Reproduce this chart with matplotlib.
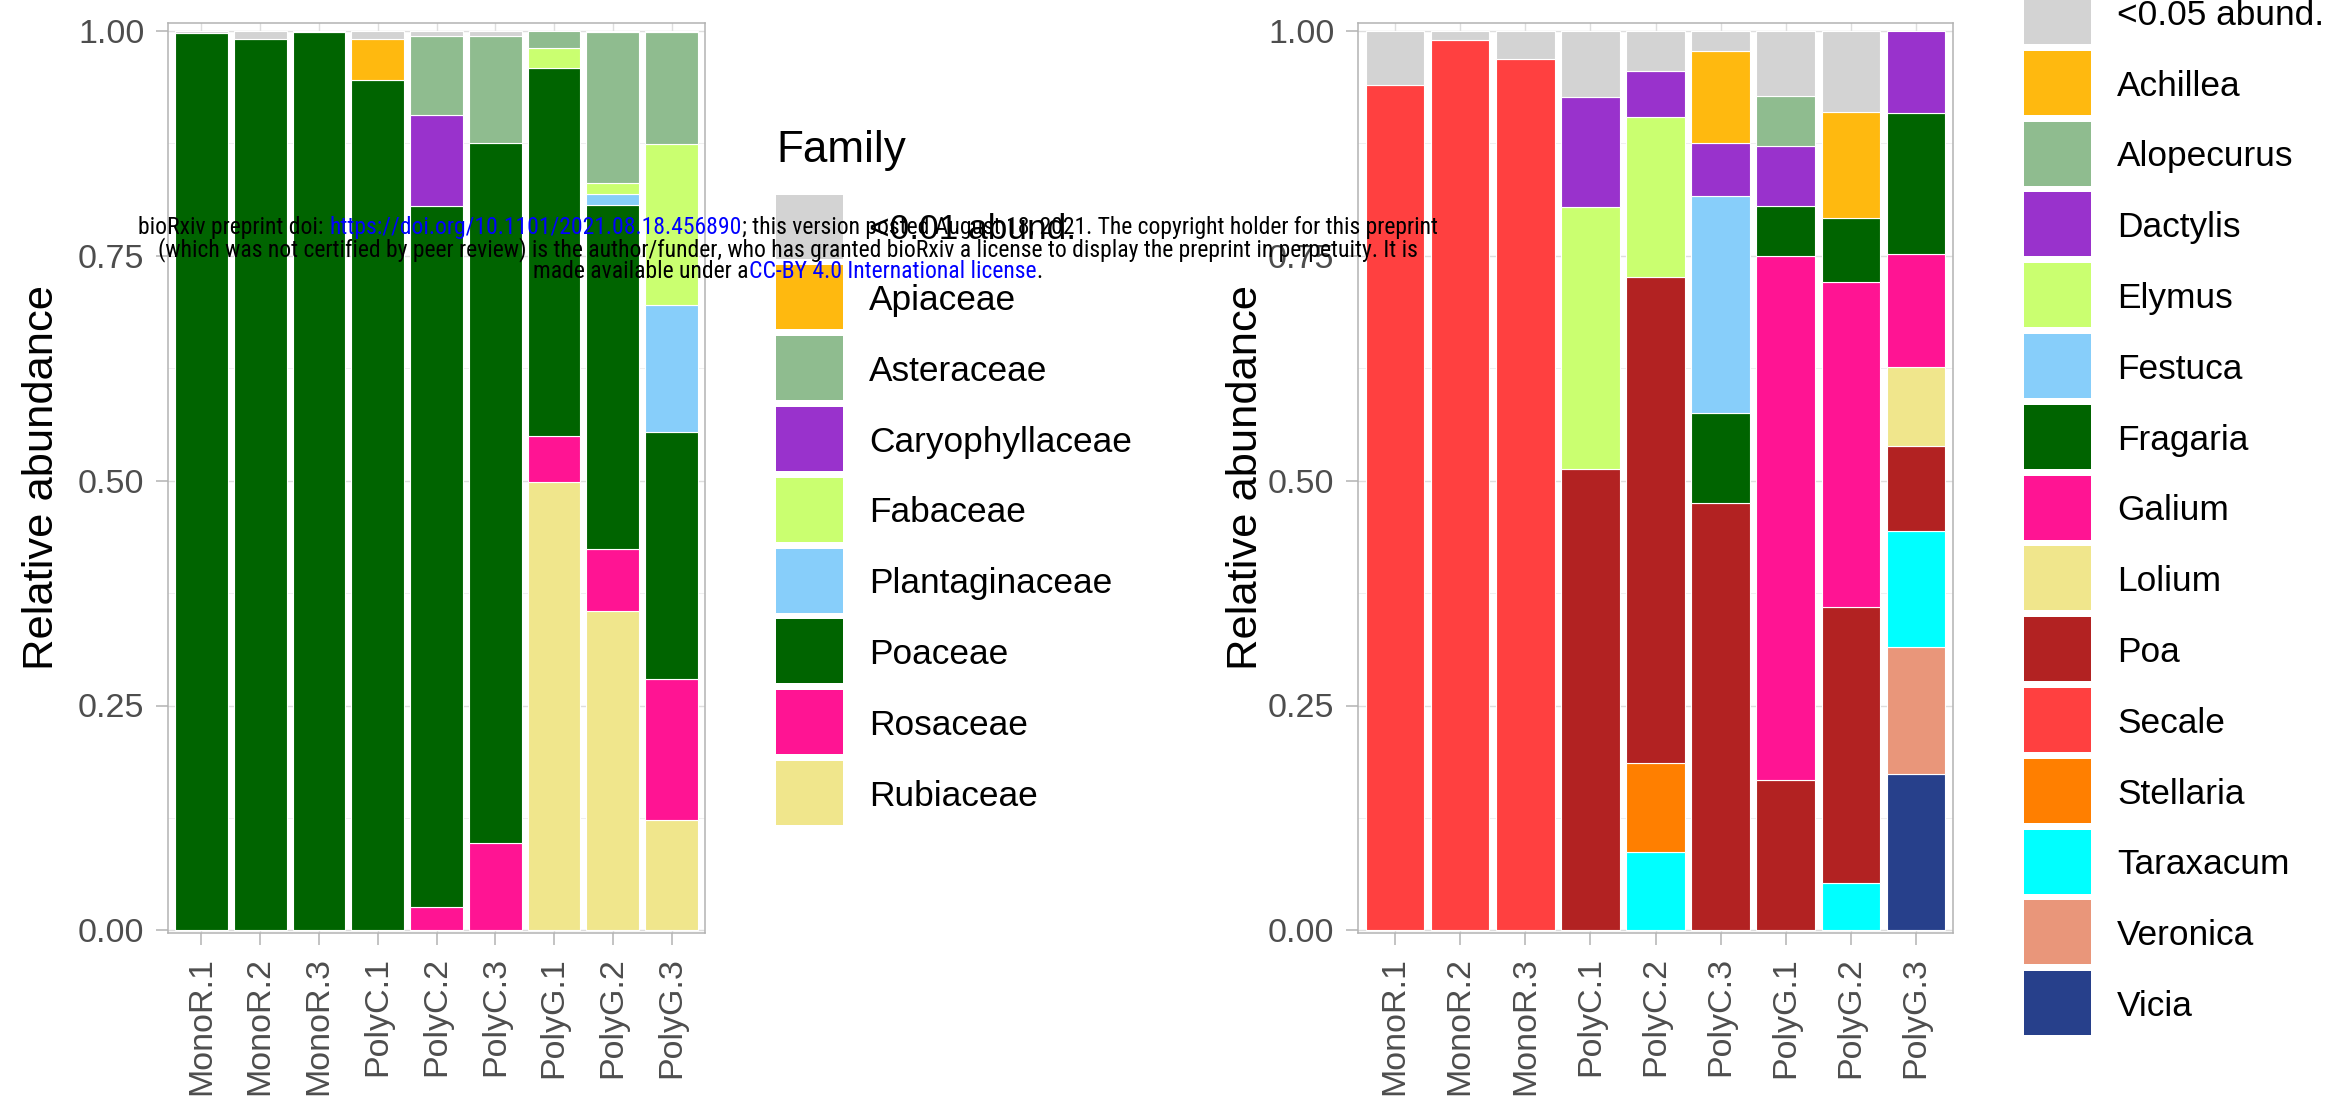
import numpy as np
import matplotlib
matplotlib.use("Agg")
import matplotlib.pyplot as plt
from matplotlib import font_manager
from matplotlib.font_manager import FontProperties
from matplotlib.patches import Rectangle

W, H = 2332, 1101

samples = ["MonoR.1", "MonoR.2", "MonoR.3", "PolyC.1", "PolyC.2",
           "PolyC.3", "PolyG.1", "PolyG.2", "PolyG.3"]
y_ticks = [0.0, 0.25, 0.5, 0.75, 1.0]
y_tick_labels = ["0.00", "0.25", "0.50", "0.75", "1.00"]

# ---- family level (legend order = top of stack first)
family_names = ["<0.01 abund.", "Apiaceae", "Asteraceae", "Caryophyllaceae",
                "Fabaceae", "Plantaginaceae", "Poaceae", "Rosaceae", "Rubiaceae"]
family_colors = ["#D3D3D3", "#FFB90F", "#8FBC8F", "#9932CC", "#CAFF70",
                 "#87CEFA", "#006400", "#FF1493", "#F0E68C"]
fam_rare = [0.002, 0.009, 0.001, 0.009, 0.005, 0.005, 0.000, 0.001, 0.001]
apiaceae = [0, 0, 0, 0.045, 0, 0, 0, 0, 0]
asteraceae = [0, 0, 0, 0, 0.088, 0.119, 0.019, 0.168, 0.125]
caryophyllaceae = [0, 0, 0, 0, 0.101, 0, 0, 0, 0]
fabaceae = [0, 0, 0, 0, 0, 0, 0.022, 0.012, 0.179]
plantaginaceae = [0, 0, 0, 0, 0, 0, 0, 0.012, 0.141]
poaceae = [0.998, 0.991, 0.999, 0.946, 0.780, 0.779, 0.409, 0.383, 0.274]
rosaceae = [0, 0, 0, 0, 0.026, 0.097, 0.051, 0.069, 0.157]
rubiaceae = [0, 0, 0, 0, 0, 0, 0.499, 0.355, 0.123]
family_values = [fam_rare, apiaceae, asteraceae, caryophyllaceae, fabaceae,
                 plantaginaceae, poaceae, rosaceae, rubiaceae]

# ---- genus level
genus_names = ["<0.05 abund.", "Achillea", "Alopecurus", "Dactylis", "Elymus",
               "Festuca", "Fragaria", "Galium", "Lolium", "Poa", "Secale",
               "Stellaria", "Taraxacum", "Veronica", "Vicia"]
genus_colors = ["#D3D3D3", "#FFB90F", "#8FBC8F", "#9932CC", "#CAFF70",
                "#87CEFA", "#006400", "#FF1493", "#F0E68C", "#B22222",
                "#FF4040", "#FF7F00", "#00FFFF", "#E9967A", "#27408B"]
gen_rare = [0.060, 0.010, 0.031, 0.073, 0.044, 0.022, 0.072, 0.090, 0.000]
achillea = [0, 0, 0, 0, 0, 0.103, 0, 0.118, 0]
alopecurus = [0, 0, 0, 0, 0, 0, 0.056, 0, 0]
dactylis = [0, 0, 0, 0.123, 0.052, 0.058, 0.066, 0, 0.091]
elymus = [0, 0, 0, 0.291, 0.177, 0, 0, 0, 0]
festuca = [0, 0, 0, 0, 0, 0.242, 0, 0, 0]
fragaria = [0, 0, 0, 0, 0, 0.100, 0.056, 0.071, 0.157]
galium = [0, 0, 0, 0, 0, 0, 0.583, 0.362, 0.126]
lolium = [0, 0, 0, 0, 0, 0, 0, 0, 0.087]
poa = [0, 0, 0, 0.513, 0.541, 0.475, 0.167, 0.306, 0.095]
secale = [0.940, 0.990, 0.969, 0, 0, 0, 0, 0, 0]
stellaria = [0, 0, 0, 0, 0.099, 0, 0, 0, 0]
taraxacum = [0, 0, 0, 0, 0.087, 0, 0, 0.053, 0.129]
veronica = [0, 0, 0, 0, 0, 0, 0, 0, 0.141]
vicia = [0, 0, 0, 0, 0, 0, 0, 0, 0.174]
genus_values = [gen_rare, achillea, alopecurus, dactylis, elymus, festuca,
                fragaria, galium, lolium, poa, secale, stellaria, taraxacum,
                veronica, vicia]

plt.rcParams["font.family"] = ["Liberation Sans", "DejaVu Sans"]

fig = plt.figure(figsize=(W / 100, H / 100), dpi=100)


def fx(px):
    return px / W


def fy(py):
    return 1 - py / H


def pt(px):
    return px * 72 / 100


def stacked_panel(left, right, top, bottom, values, colors):
    ax = fig.add_axes([fx(left), fy(bottom), (right - left) / W, (bottom - top) / H])
    x = np.arange(len(samples))
    base = np.zeros(len(samples))
    # last legend entry sits at the bottom of each bar
    for vals, col in reversed(list(zip(values, colors))):
        v = np.array(vals, dtype=float)
        keep = v > 0
        ax.bar(x[keep], v[keep], bottom=base[keep], width=0.9, color=col,
               edgecolor="white", linewidth=0.8, zorder=2)
        base += v
    ax.set_xlim(-0.57, 8.57)
    ax.set_ylim(-0.003, 1.009)
    ax.set_xticks(x)
    ax.set_xticklabels(samples, rotation=90)
    ax.set_yticks(y_ticks)
    ax.set_yticklabels(y_tick_labels)
    ax.set_yticks([0.125, 0.375, 0.625, 0.875], minor=True)
    ax.grid(True, which="major", color="#DEDEDE", linewidth=1.0, zorder=0)
    ax.grid(True, which="minor", axis="y", color="#EDEDED", linewidth=0.6, zorder=0)
    ax.set_axisbelow(True)
    for s in ax.spines.values():
        s.set_color("#B3B3B3")
        s.set_linewidth(1.1)
    ax.tick_params(which="major", width=1.1, color="#B3B3B3",
                   labelcolor="#4D4D4D", labelsize=pt(34))
    ax.tick_params(axis="x", which="major", length=8.5, pad=9)
    ax.tick_params(axis="y", which="major", length=9, pad=8)
    ax.tick_params(which="minor", length=0)
    return ax


def key_legend(names, colors, key_x, key_top, label_x):
    pitch, kh, kw, fs = 70.8, 64, 67, 35.3
    for i, (name, col) in enumerate(zip(names, colors)):
        y0 = key_top + i * pitch
        fig.add_artist(Rectangle((fx(key_x), fy(y0 + kh)), kw / W, kh / H,
                                 transform=fig.transFigure, facecolor=col,
                                 edgecolor="none"))
        fig.text(fx(label_x), fy(y0 + kh / 2 + 0.36 * fs), name,
                 fontsize=pt(fs), ha="left", va="baseline", color="black")


stacked_panel(168, 705, 23, 933, family_values, family_colors)
stacked_panel(1358, 1953, 23, 933, genus_values, genus_colors)

for xl in (42, 1246):
    fig.text(fx(xl), fy(478), "Relative abundance", rotation=90,
             ha="center", va="center", fontsize=pt(43.5), color="black")

fig.text(fx(776), fy(162), "Family", fontsize=pt(44), ha="left",
         va="baseline", color="black")
key_legend(family_names, family_colors, 776, 194.5, 869)
key_legend(genus_names, genus_colors, 2024, -20, 2117)


# ---- preprint notice printed across the top, set in a narrow face
def narrow_face():
    prefs = ["Liberation Sans Narrow", "Arial Narrow", "Nimbus Sans Narrow",
             "Noto Sans", "Open Sans", "Roboto", "DejaVu Sans"]
    cands = []
    for f in font_manager.fontManager.ttflist:
        narrow = ("Narrow" in f.name or "Condensed" in f.name
                  or str(f.stretch) in ("condensed", "semi-condensed"))
        if not narrow or f.style != "normal" or str(f.weight) not in ("400", "normal", "regular"):
            continue
        if "Mono" in f.name or "Serif" in f.name:
            continue
        rank = next((i for i, p in enumerate(prefs) if f.name.startswith(p)), len(prefs))
        cands.append((rank, str(f.stretch) != "condensed", f.fname))
    if cands:
        return FontProperties(fname=sorted(cands)[0][2])
    return FontProperties(family="Liberation Sans")


note_fp = narrow_face()
renderer = fig.canvas.get_renderer()


def text_width(s, size):
    fp = note_fp.copy()
    fp.set_size(size)
    t = fig.text(0, 0, s + "|", fontproperties=fp)
    w = t.get_window_extent(renderer).width
    t.remove()
    t = fig.text(0, 0, "|", fontproperties=fp)
    w -= t.get_window_extent(renderer).width
    t.remove()
    return w


blue = "#0000FF"
note_lines = [
    [("bioRxiv preprint doi: ", "black"),
     ("https://doi.org/10.1101/2021.08.18.456890", blue),
     ("; this version posted August 18, 2021. The copyright holder for this preprint", "black")],
    [("(which was not certified by peer review) is the author/funder, who has granted "
      "bioRxiv a license to display the preprint in perpetuity. It is", "black")],
    [("made available under a", "black"),
     ("CC-BY 4.0 International license", blue),
     (".", "black")],
]
note_baselines = [234, 256, 277.5]

first = "".join(s for s, _ in note_lines[0])
note_size = 16 * 1300 / text_width(first, 16)
note_size = min(note_size, pt(25))

for pieces, yb in zip(note_lines, note_baselines):
    full = "".join(s for s, _ in pieces)
    x0 = 788 - text_width(full, note_size) / 2
    prefix = ""
    for s, col in pieces:
        off = text_width(prefix, note_size) if prefix else 0
        fp = note_fp.copy()
        fp.set_size(note_size)
        fig.text(fx(x0 + off), fy(yb), s, color=col, fontproperties=fp,
                 ha="left", va="baseline", zorder=10)
        prefix += s

fig.savefig("out.png", dpi=100)
